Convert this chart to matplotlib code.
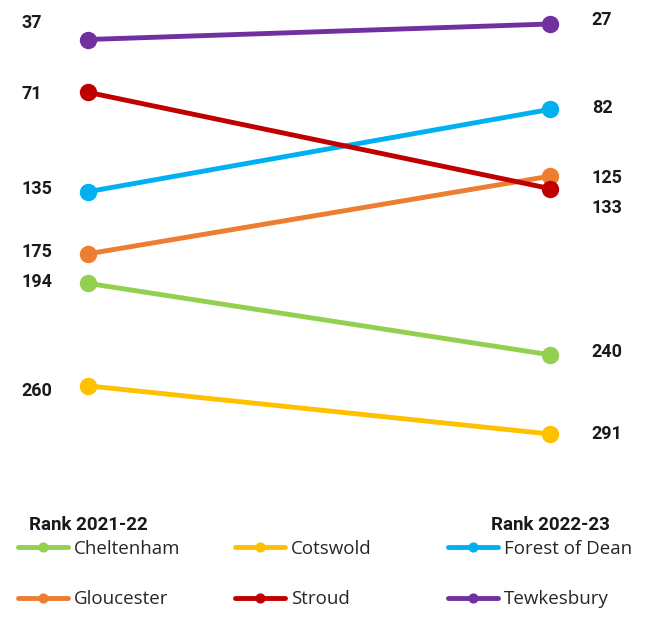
import matplotlib
matplotlib.use("Agg")
import matplotlib.pyplot as plt
from matplotlib import font_manager

towns = ["Cheltenham", "Cotswold", "Forest of Dean", "Gloucester", "Stroud", "Tewkesbury"]
rank_2122 = [194, 260, 135, 175, 71, 37]
rank_2223 = [240, 291, 82, 125, 133, 27]
period_labels = ["Rank 2021-22", "Rank 2022-23"]
colors = ["#92D050", "#FFC000", "#00B0F0", "#ED7D31", "#C00000", "#7030A0"]
# label nudges in points (left, right) to avoid overlaps
left_nudge = [1, -4, 2, 1, -1, 12]
right_nudge = [2, 0, 1, -1, -14, 3]

names = {f.name for f in font_manager.fontManager.ttflist}
num_font = "Liberation Sans Narrow" if "Liberation Sans Narrow" in names else "Roboto"
leg_font = "Open Sans" if "Open Sans" in names else "DejaVu Sans"

fig = plt.figure(figsize=(6.51, 6.39), dpi=100)
ax = fig.add_axes([0, 1 - 500 / 639, 1, 490 / 639])
ax.set_xlim(-88 / 462, (651 - 88) / 462)
ax.set_ylim(333.5, 18)
ax.axis("off")

for name, a, b, c, ln, rn in zip(towns, rank_2122, rank_2223, colors, left_nudge, right_nudge):
    ax.plot([0, 1], [a, b], color=c, lw=3.5, marker="o", ms=11.5,
            solid_capstyle="round", label=name, zorder=2)
    ax.annotate(str(a), (0, a), xytext=(-48, ln), textcoords="offset points",
                ha="left", va="center", fontsize=13, fontweight="bold",
                family=num_font, color="#1a1a1a")
    ax.annotate(str(b), (1, b), xytext=(30, rn), textcoords="offset points",
                ha="left", va="center", fontsize=13, fontweight="bold",
                family=num_font, color="#1a1a1a")

for x, lab in zip([0, 1], period_labels):
    ax.annotate(lab, (x, 333.5), xytext=(0, -18), textcoords="offset points",
                ha="center", va="center", fontsize=13.5, fontweight="bold",
                family="Roboto", color="#1a1a1a", annotation_clip=False)

handles, labels = ax.get_legend_handles_labels()
col_x = [10, 227, 440]
for k, x0 in enumerate(col_x):
    idx = [k, k + 3]
    leg = fig.legend([handles[i] for i in idx], [labels[i] for i in idx], ncol=1,
                     loc="upper left", bbox_to_anchor=(x0 / 651, 1 - 532 / 639), frameon=False,
                     prop={"family": leg_font, "size": 13.5}, handlelength=2.7,
                     handletextpad=0.3, labelspacing=1.75,
                     markerscale=0.55, borderaxespad=0)
    for t in leg.get_texts():
        t.set_color("#262626")

fig.savefig("out.png", dpi=100, facecolor="white")
